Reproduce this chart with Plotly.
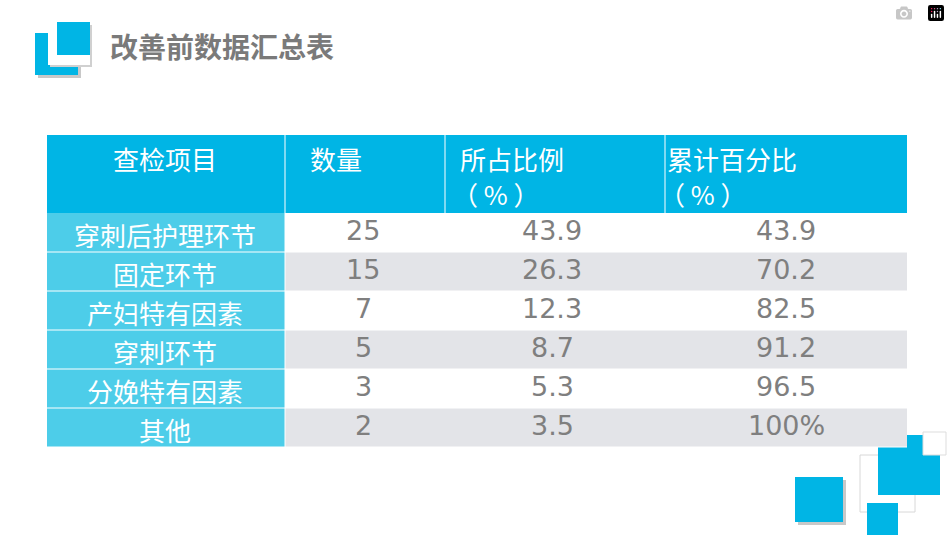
import plotly.graph_objects as go

title = "改善前数据汇总表"
headers = ["查检项目", "数量", "所占比例", "累计百分比"]
header_units = ["", "", "（ % ）", "（ % ）"]
items = ["穿刺后护理环节", "固定环节", "产妇特有因素", "穿刺环节", "分娩特有因素", "其他"]
counts = ["25", "15", "7", "5", "3", "2"]
ratios = ["43.9", "26.3", "12.3", "8.7", "5.3", "3.5"]
cumulative = ["43.9", "70.2", "82.5", "91.2", "96.5", "100%"]

BLUE = "#00B5E5"
CYAN = "#4DCDE9"
GRAY = "#E3E4E8"
TXT = "#7F7F7F"
FONT = "Noto Sans CJK SC"

col_x = [47, 285, 445, 665, 907]
head_top, head_bot, row_h = 135, 213, 39

shapes = []
ann = []

def rect(x0, y0, x1, y1, color, line=None):
    shapes.append(dict(type="rect", x0=x0, y0=y0, x1=x1, y1=y1, fillcolor=color,
                       line=dict(width=1 if line else 0, color=line or color), layer="below"))

# decorations
rect(38, 36, 81, 78, "#C8C8C8")
rect(35, 33, 78, 75, BLUE)
rect(50, 25, 92, 67, "#D0D0D0")
rect(48, 22, 90, 65, "white")
rect(57, 22, 90, 55, BLUE)
rect(798, 480, 846, 525, "#C8C8C8")
rect(795, 477, 843, 522, BLUE)
rect(860, 455, 915, 512, "white", "#D8D8D8")
rect(878, 435, 940, 495, BLUE)
rect(923, 432, 946, 455, "white", "#DDDDDD")
rect(867, 503, 898, 535, BLUE)

# header
rect(col_x[0], head_top, col_x[4], head_bot, BLUE)
for i in range(1, 4):
    shapes.append(dict(type="line", x0=col_x[i], x1=col_x[i], y0=head_top, y1=head_bot,
                       line=dict(color="white", width=1)))
head_pos = [(165, "center"), (308, "left"), (458, "left"), (665, "left")]
for (x, al), h, u in zip(head_pos, headers, header_units):
    ann.append(dict(x=x, y=158, text=h, xanchor="center" if al == "center" else "left",
                    showarrow=False, font=dict(family=FONT, size=26, color="white")))
    if u:
        ann.append(dict(x=x - 8, y=193, text=u, xanchor="left", showarrow=False,
                        font=dict(family=FONT, size=26, color="white")))

# rows
for r, (it, c, p, cu) in enumerate(zip(items, counts, ratios, cumulative)):
    y0 = head_bot + r * row_h
    y1 = y0 + row_h
    rect(col_x[0], y0, col_x[1], y1, CYAN)
    rect(col_x[1], y0, col_x[4], y1, "white" if r % 2 == 0 else GRAY)
    shapes.append(dict(type="line", x0=col_x[0], x1=col_x[4], y0=y1, y1=y1,
                       line=dict(color="white", width=1)))
    shapes.append(dict(type="line", x0=col_x[1], x1=col_x[1], y0=y0, y1=y1,
                       line=dict(color="white", width=1)))
    yc = (y0 + y1) / 2
    ann.append(dict(x=165, y=yc + 2, text=it, showarrow=False,
                    font=dict(family=FONT, size=26, color="white")))
    for x, t in zip([363, 552, 786], [c, p, cu]):
        ann.append(dict(x=x, y=yc - 2, text=t, showarrow=False,
                        font=dict(family="DejaVu Sans", size=27, color=TXT)))

ann.append(dict(x=108, y=46, text="<b>" + title + "</b>", xanchor="left", showarrow=False,
                font=dict(family=FONT, size=28, color="#7A7A7A")))

fig = go.Figure()
fig.update_layout(width=950, height=535, margin=dict(l=0, r=0, t=0, b=0),
                  plot_bgcolor="white", paper_bgcolor="white", shapes=shapes, annotations=ann,
                  xaxis=dict(range=[0, 950], visible=False, fixedrange=True),
                  yaxis=dict(range=[535, 0], visible=False, fixedrange=True),
                  showlegend=False)
fig.write_html("out.html", post_script="document.body.style.margin='0';")
